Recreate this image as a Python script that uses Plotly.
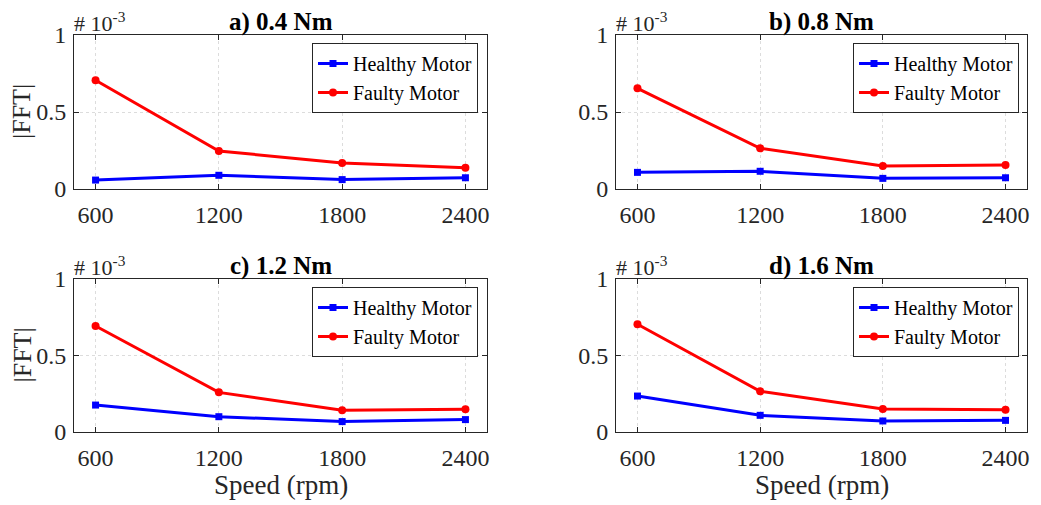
import plotly.graph_objects as go

speeds = [600, 1200, 1800, 2400]
tick_labels = ["600", "1200", "1800", "2400"]
panel_titles = ["a) 0.4 Nm", "b) 0.8 Nm", "c) 1.2 Nm", "d) 1.6 Nm"]

# |FFT| values in units of 1e-3
healthy_a = [0.058, 0.089, 0.061, 0.073]
faulty_a = [0.706, 0.247, 0.169, 0.138]
healthy_b = [0.108, 0.115, 0.069, 0.073]
faulty_b = [0.654, 0.264, 0.149, 0.156]
healthy_c = [0.176, 0.100, 0.068, 0.081]
faulty_c = [0.693, 0.259, 0.142, 0.148]
healthy_d = [0.235, 0.109, 0.072, 0.076]
faulty_d = [0.704, 0.266, 0.150, 0.146]

healthy = [healthy_a, healthy_b, healthy_c, healthy_d]
faulty = [faulty_a, faulty_b, faulty_c, faulty_d]

W, H = 1041, 505
OFF = 8  # page body margin
FONT = "Liberation Serif"
AX = "#262626"

def px(x):
    return (x - OFF) / W

def py(y):
    return (H - (y - OFF)) / H

# axis boxes in reference pixels (left, right, top, bottom)
boxes = [(74, 487, 35, 189), (616, 1027, 35, 189),
         (74, 487, 279, 432), (616, 1027, 279, 432)]
legend_right = [478, 1019, 478, 1019]
legend_top = [43, 43, 287, 287]

fig = go.Figure()
legend_names = ["legend", "legend2", "legend3", "legend4"]
layout = {}
annotations = []
for i in range(4):
    l, r, t, b = boxes[i]
    xa = "xaxis" if i == 0 else f"xaxis{i+1}"
    ya = "yaxis" if i == 0 else f"yaxis{i+1}"
    xr = "x" if i == 0 else f"x{i+1}"
    yr = "y" if i == 0 else f"y{i+1}"
    fig.add_trace(go.Scatter(
        x=speeds, y=healthy[i], mode="lines+markers", name="Healthy Motor",
        line=dict(color="#0000FF", width=3),
        marker=dict(symbol="square", size=7, color="#0000FF"),
        xaxis=xr, yaxis=yr, legend=legend_names[i]))
    fig.add_trace(go.Scatter(
        x=speeds, y=faulty[i], mode="lines+markers", name="Faulty Motor",
        line=dict(color="#FF0000", width=3),
        marker=dict(symbol="circle", size=8, color="#FF0000"),
        xaxis=xr, yaxis=yr, legend=legend_names[i]))
    common = dict(showline=True, linecolor=AX, linewidth=1, mirror="allticks",
                  ticks="inside", ticklen=5, tickcolor=AX,
                  showgrid=True, gridcolor="#dcdcdc", griddash="dot", gridwidth=1,
                  zeroline=False, automargin=False,
                  tickfont=dict(family=FONT, size=24, color=AX))
    layout[xa] = dict(domain=[px(l), px(r)], range=[495, 2505],
                      tickvals=speeds, ticktext=tick_labels, anchor=yr,
                      ticklabelstandoff=4, **common)
    layout[ya] = dict(domain=[py(b), py(t)], range=[0, 1],
                      tickvals=[0, 0.5, 1], ticktext=["0", "0.5", "1"], anchor=xr,
                      ticklabelstandoff=2, **common)
    layout[legend_names[i]] = dict(
        x=px(legend_right[i]), y=py(legend_top[i]), xanchor="right", yanchor="top",
        xref="paper", yref="paper",
        bgcolor="white", bordercolor=AX, borderwidth=1,
        font=dict(family=FONT, size=20, color="black"),
        itemwidth=30, tracegroupgap=0)
    annotations.append(dict(text="<b>" + panel_titles[i] + "</b>",
                            x=px((l + r) / 2), y=py(t - 13),
                            xref="paper", yref="paper", showarrow=False,
                            xanchor="center", yanchor="middle",
                            font=dict(family=FONT, size=25, color="black")))
    annotations.append(dict(text="# 10<sup>-3</sup>",
                            x=px(l - 2), y=py(t - 13),
                            xref="paper", yref="paper", showarrow=False,
                            xanchor="left", yanchor="middle",
                            font=dict(family=FONT, size=22, color=AX)))

for t, b in [(35, 189), (279, 432)]:
    annotations.append(dict(text="|FFT|", x=px(22), y=py((t + b) / 2),
                            xref="paper", yref="paper", showarrow=False,
                            textangle=-90, xanchor="center", yanchor="middle",
                            font=dict(family=FONT, size=26, color=AX)))
for l, r in [(74, 487), (616, 1027)]:
    annotations.append(dict(text="Speed (rpm)", x=px((l + r) / 2), y=py(485),
                            xref="paper", yref="paper", showarrow=False,
                            xanchor="center", yanchor="middle",
                            font=dict(family=FONT, size=27, color=AX)))

fig.update_layout(width=W, height=H,
                  margin=dict(l=0, r=0, t=0, b=0, pad=0, autoexpand=False),
                  paper_bgcolor="white", plot_bgcolor="white",
                  annotations=annotations, **layout)
fig.write_html("out.html")
